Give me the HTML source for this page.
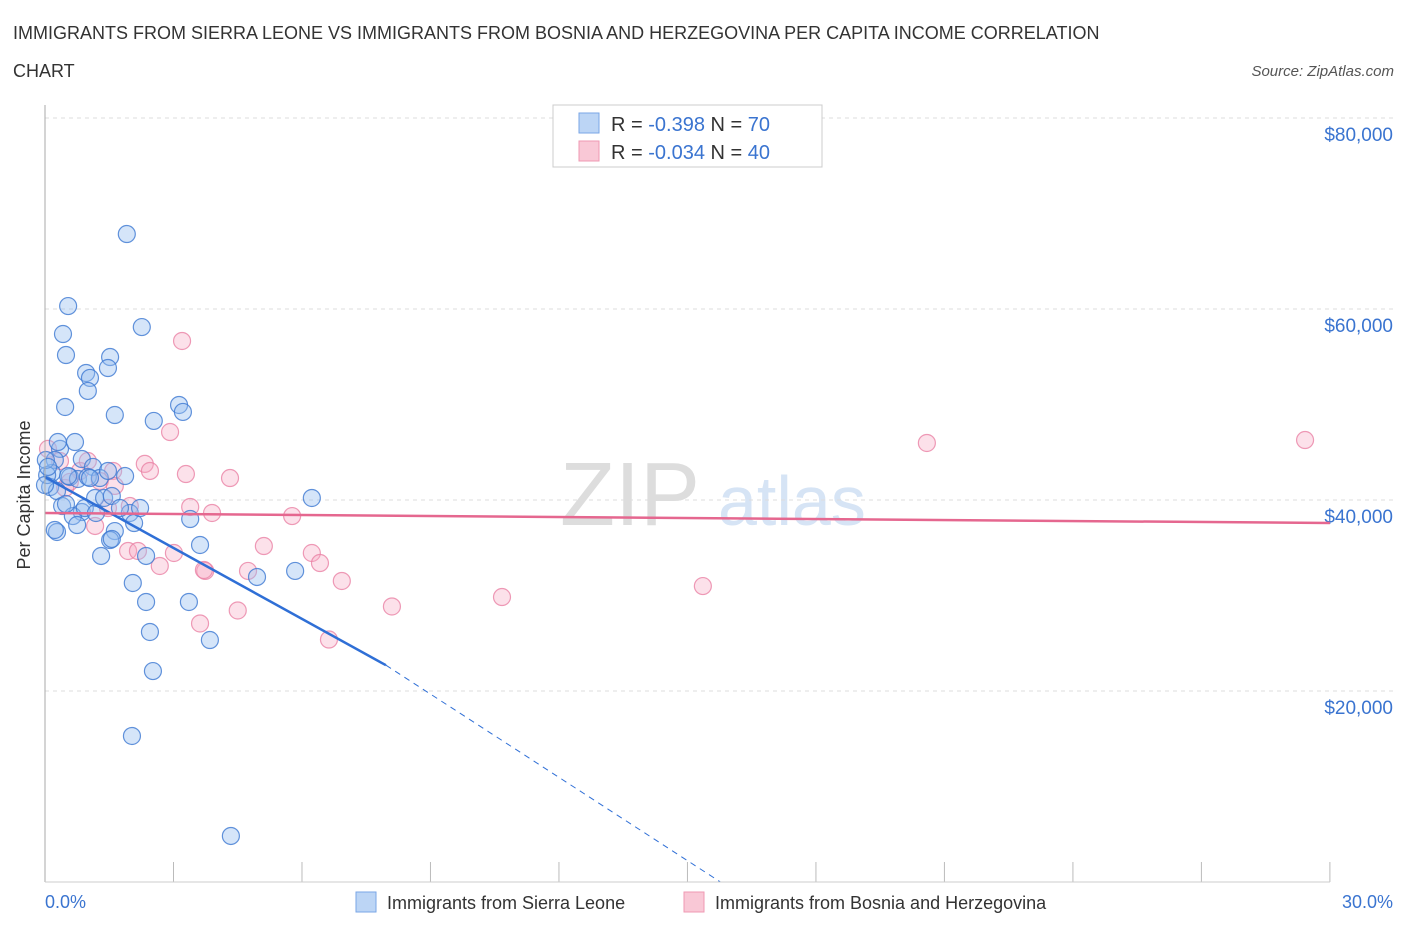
<!DOCTYPE html>
<html><head><meta charset="utf-8"><style>
body{margin:0;background:#fff;font-family:"Liberation Sans",sans-serif;}
svg text{font-family:"Liberation Sans",sans-serif;}
</style></head><body>
<svg id="c" width="1406" height="930">
<text x="13" y="39" font-size="18" fill="#333">IMMIGRANTS FROM SIERRA LEONE VS IMMIGRANTS FROM BOSNIA AND HERZEGOVINA PER CAPITA INCOME CORRELATION</text>
<text x="13" y="77" font-size="18" fill="#333">CHART</text>
<text x="1394" y="76" font-size="15" fill="#555" font-style="italic" text-anchor="end">Source: ZipAtlas.com</text>
<text x="30" y="495" font-size="18" fill="#333" text-anchor="middle" transform="rotate(-90 30 495)">Per Capita Income</text>
<text x="560" y="525" font-size="90" fill="#ddd" font-family="Liberation Serif">ZIP</text>
<text x="718" y="525" font-size="70" fill="#d6e4f5">atlas</text>
<g id="grid"></g><g id="pts"></g><g id="lines"></g>
<line x1="45" y1="105" x2="45" y2="882" stroke="#aaa"/>
<line x1="45" y1="882" x2="1330" y2="882" stroke="#ccc"/>
<text x="45" y="908" font-size="18" fill="#3a74d0">0.0%</text>
<text x="1393" y="908" font-size="18" fill="#3a74d0" text-anchor="end">30.0%</text>
<g>
<rect x="553" y="105" width="269" height="62" fill="#fff" stroke="#ccc"/>
<rect x="579" y="113" width="20" height="20" fill="#bcd5f5" stroke="#7aa6e6"/>
<rect x="579" y="141" width="20" height="20" fill="#f9c8d6" stroke="#ef99b3"/>
<text x="611" y="131" font-size="20" fill="#333">R = <tspan fill="#3a74d0">-0.398</tspan>   N = <tspan fill="#3a74d0">70</tspan></text>
<text x="611" y="159" font-size="20" fill="#333">R = <tspan fill="#3a74d0">-0.034</tspan>   N = <tspan fill="#3a74d0">40</tspan></text>
</g>
<g>
<rect x="356" y="892" width="20" height="20" fill="#bcd5f5" stroke="#7aa6e6"/>
<text x="387" y="909" font-size="18" fill="#333">Immigrants from Sierra Leone</text>
<rect x="684" y="892" width="20" height="20" fill="#f9c8d6" stroke="#ef99b3"/>
<text x="715" y="909" font-size="18" fill="#333">Immigrants from Bosnia and Herzegovina</text>
</g>
</svg>
<script>
const yTicks=[20000,40000,60000,80000];
const yTickLabels=["$20,000","$40,000","$60,000","$80,000"];
const bluePts=[[1.91,67850],[0.54,60310],[0.42,57380],[2.26,58110],[0.49,55180],[1.52,54970],[1.47,53820],[0.96,53300],[1.05,52780],[1.0,51420],[0.47,49740],[1.63,48900],[3.13,49950],[3.22,49220],[2.54,48280],[0.35,45350],[0.23,44190],[0.86,44290],[1.12,43460],[1.87,42510],[0.16,42830],[0.58,42410],[0.77,42200],[1.0,42410],[0.12,41360],[0.28,40940],[1.17,40210],[1.38,40210],[1.56,40420],[1.98,38640],[0.4,39370],[0.86,38740],[0.65,38320],[0.75,37380],[0.93,39160],[2.08,37590],[1.63,36750],[0.28,36650],[0.23,36860],[1.52,35810],[1.56,35920],[6.23,40210],[3.39,38010],[3.62,35290],[1.31,34140],[2.36,34140],[2.05,31310],[2.36,29320],[3.36,29320],[4.95,31940],[5.84,32570],[2.45,26180],[3.85,25340],[2.52,22090],[2.03,15290],[4.34,4820],[0.05,42610],[0.02,44190],[0.07,43460],[0.49,39580],[1.28,42300],[1.75,39160],[1.19,38640],[0.7,46070],[0,41570],[0.3,46070],[1.05,42300],[2.22,39160],[0.54,42510],[1.47,43040]];
const pinkPts=[[3.2,56650],[29.42,46280],[20.59,45970],[2.92,47120],[0.07,45350],[2.33,43780],[2.45,43040],[3.29,42720],[4.32,42300],[0.35,44080],[0.82,43040],[1.28,41990],[1.59,43040],[1.63,41470],[1.98,39370],[3.39,39270],[3.9,38640],[5.77,38320],[1.17,37280],[0.47,41260],[1.94,34660],[2.17,34660],[3.01,34450],[2.68,33090],[5.11,35180],[6.23,34450],[6.42,33400],[3.74,32570],[4.74,32570],[6.93,31520],[3.71,32670],[8.1,28850],[10.67,29840],[15.36,30990],[4.5,28430],[3.62,27070],[6.63,25390],[0.58,41890],[1.47,39160],[1.0,44080]];
const blueFit=[[0,42400],[7.96,22700],[15.77,0]];
const pinkFit=[[0,38640],[30,37590]];
const X=p=>45+p*42.83, Y=v=>882-v*191/20000;
const NS="http://www.w3.org/2000/svg";
function mk(t,a,parent){const e=document.createElementNS(NS,t);for(const k in a)e.setAttribute(k,a[k]);document.getElementById(parent).appendChild(e);return e;}
yTicks.forEach((v,i)=>{
 const l=mk('line',{x1:45,x2:1395,y1:Y(v),y2:Y(v),stroke:'#ddd','stroke-dasharray':'4,4'},'grid');
 
 
 const t=mk('text',{x:1393,y:Y(v)+23,'font-size':19,fill:'#3a74d0','text-anchor':'end'},'grid');
 t.textContent=yTickLabels[i];
 
 
});
for(let i=0;i<=10;i++){
 const l=mk('line',{x1:X(i*3),x2:X(i*3),y1:862,y2:882,stroke:'#bbb'},'grid');
 
 
}
pinkPts.forEach(p=>{
 const c=mk('circle',{cx:X(p[0]),cy:Y(p[1]),r:8.5,fill:'rgba(246,170,195,0.35)',stroke:'rgba(234,130,165,0.8)','stroke-width':1.2},'pts');
 
 
});
bluePts.forEach(p=>{
 const c=mk('circle',{cx:X(p[0]),cy:Y(p[1]),r:8.5,fill:'rgba(150,190,240,0.4)',stroke:'rgba(60,120,210,0.8)','stroke-width':1.2},'pts');
 
 
});
let b=mk('line',{x1:X(blueFit[0][0]),y1:Y(blueFit[0][1]),x2:X(blueFit[1][0]),y2:Y(blueFit[1][1]),stroke:'#2f6fd6','stroke-width':2.5},'lines');


let bd=mk('line',{x1:X(blueFit[1][0]),y1:Y(blueFit[1][1]),x2:X(blueFit[2][0]),y2:Y(blueFit[2][1]),stroke:'#2f6fd6','stroke-width':1,'stroke-dasharray':'6,5'},'lines');


let pl=mk('line',{x1:X(pinkFit[0][0]),y1:Y(pinkFit[0][1]),x2:X(pinkFit[1][0]),y2:Y(pinkFit[1][1]),stroke:'#e5678f','stroke-width':2.5},'lines');


</script>
</body></html>
